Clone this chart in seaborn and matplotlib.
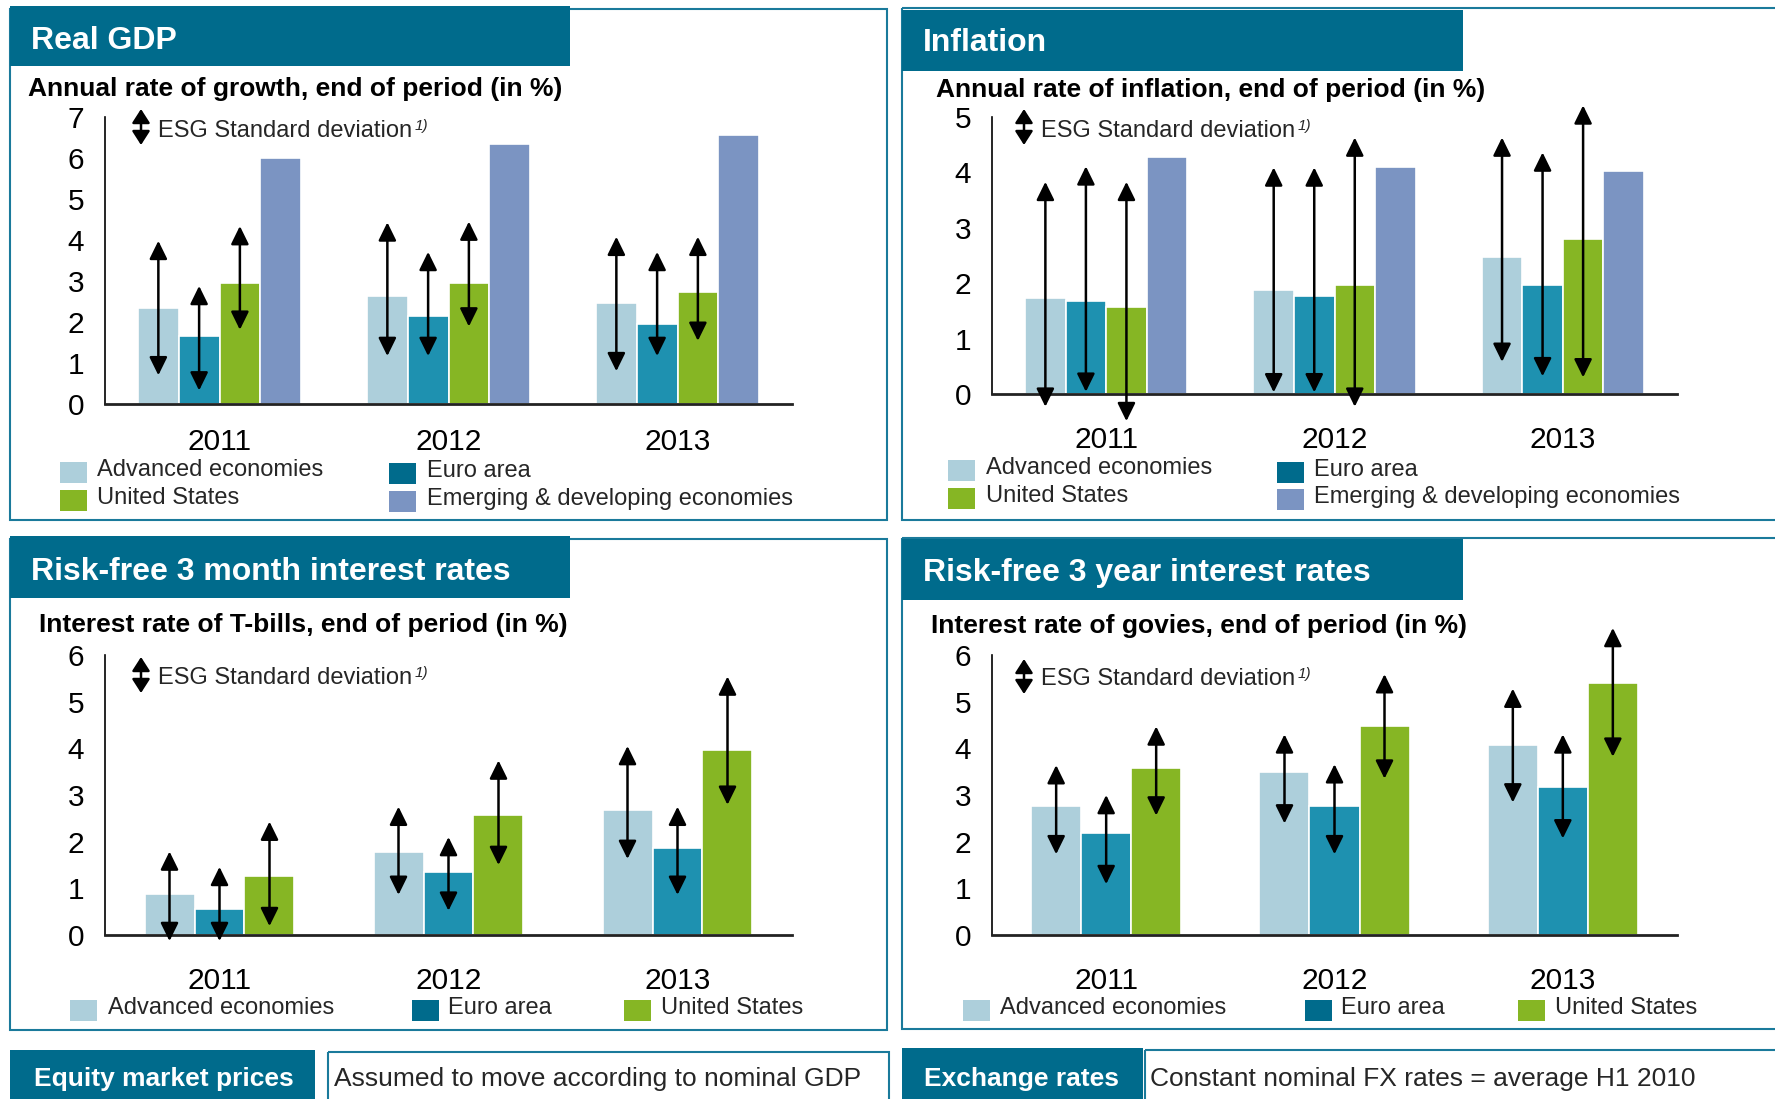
import numpy as np
import pandas as pd
import matplotlib
matplotlib.use("Agg")
import matplotlib.pyplot as plt
from matplotlib.patches import Rectangle
import seaborn as sns

# -----------------------------
# DATA
# -----------------------------
years = ["2011", "2012", "2013"]
series4 = ["Advanced economies", "Euro area", "United States",
           "Emerging & developing economies"]
series3 = series4[:3]

# Real GDP (annual growth, %)
gdp_adv = [2.33, 2.64, 2.46]
gdp_euro = [1.65, 2.14, 1.96]
gdp_us = [2.96, 2.96, 2.73]
gdp_em = [6.01, 6.33, 6.55]
gdp_lo = [[0.70, 1.17, 0.80], [0.33, 1.17, 1.17], [1.81, 1.89, 1.54]]
gdp_hi = [[3.98, 4.43, 4.08], [2.88, 3.71, 3.71], [4.34, 4.45, 4.08]]

# Inflation (%)
inf_adv = [1.73, 1.87, 2.48]
inf_euro = [1.67, 1.77, 1.97]
inf_us = [1.57, 1.97, 2.80]
inf_em = [4.27, 4.09, 4.03]
inf_lo = [[-0.23, 0.03, 0.58], [0.04, 0.03, 0.32], [-0.49, -0.23, 0.30]]
inf_hi = [[3.83, 4.09, 4.63], [4.11, 4.09, 4.36], [3.83, 4.63, 5.21]]

# Risk-free 3 month rates (%)
m3_adv = [0.88, 1.78, 2.67]
m3_euro = [0.56, 1.36, 1.87]
m3_us = [1.27, 2.58, 3.97]
m3_lo = [[-0.13, 0.86, 1.63], [-0.13, 0.52, 0.86], [0.19, 1.50, 2.79]]
m3_hi = [[1.79, 2.75, 4.05], [1.46, 2.10, 2.75], [2.43, 3.74, 5.54]]

# Risk-free 3 year rates (%)
y3_adv = [2.77, 3.49, 4.08]
y3_euro = [2.18, 2.77, 3.18]
y3_us = [3.57, 4.48, 5.39]
y3_lo = [[1.73, 2.39, 2.84], [1.09, 1.73, 2.07], [2.56, 3.35, 3.82]]
y3_hi = [[3.64, 4.30, 5.28], [3.00, 3.66, 4.30], [4.47, 5.59, 6.58]]

bar_colors = ["#ADCFDB", "#1E91B0", "#86B624", "#7B94C2"]
legend_colors = ["#ADCFDB", "#006B8C", "#86B624", "#7B94C2"]
header_color = "#006B8C"
border_color = "#1A7A9B"

# -----------------------------
# STYLE
# -----------------------------
sns.set_style("white")
plt.rcParams["font.family"] = ["Liberation Sans", "DejaVu Sans"]

W, H = 1775, 1099
fig = plt.figure(figsize=(W / 100, H / 100), dpi=100)

# background axes in pixel coordinates for boxes and texts
bg = fig.add_axes([0, 0, 1, 1])
bg.set_xlim(0, W)
bg.set_ylim(H, 0)
bg.axis("off")

arrow_style = "<|-|>,head_length=0.55,head_width=0.27"
note_style = "<|-|>,head_length=0.42,head_width=0.27"


def px_axes(left, top, right, bottom):
    return fig.add_axes([left / W, 1 - bottom / H, (right - left) / W, (bottom - top) / H])


def draw_panel(ax, values, series, lo, hi, ymax, width, xpad):
    df = pd.DataFrame({
        "year": years * len(series),
        "series": np.repeat(series, len(years)),
        "value": np.concatenate(values),
    })
    sns.barplot(data=df, x="year", y="value", hue="series", hue_order=series,
                palette=bar_colors[:len(series)], saturation=1, width=width,
                errorbar=None, legend=False, edgecolor="white", linewidth=1.2, ax=ax)
    bars = sorted(ax.patches, key=lambda p: p.get_x())
    n = len(series)
    for i in range(len(lo)):
        for j in range(len(years)):
            p = bars[j * n + i]
            x = p.get_x() + p.get_width() / 2
            ax.annotate("", xy=(x, hi[i][j]), xytext=(x, lo[i][j]),
                        arrowprops=dict(arrowstyle=arrow_style, color="black", lw=1.8,
                                        shrinkA=0, shrinkB=0, mutation_scale=20),
                        annotation_clip=False)
    ax.set_xlim(-0.5, 2.5)
    ax.set_ylim(0, ymax)
    ax.set_yticks(range(ymax + 1))
    ax.set_xlabel("")
    ax.set_ylabel("")
    ax.set_facecolor("none")
    for s in ["top", "right"]:
        ax.spines[s].set_visible(False)
    ax.spines["left"].set_color("black")
    ax.spines["left"].set_linewidth(1.2)
    ax.spines["bottom"].set_color("#222222")
    ax.spines["bottom"].set_linewidth(2)
    ax.tick_params(axis="both", length=0, labelsize=21.5, colors="black")
    ax.tick_params(axis="y", pad=15)
    ax.tick_params(axis="x", pad=xpad)


def panel_frame(x0, y0, x1, y1, hx1, hy0, hy1, title, tx, ty, subtitle, sx, sy):
    bg.add_patch(Rectangle((x0, y0), x1 - x0, y1 - y0, fill=False,
                           edgecolor=border_color, lw=1.5))
    bg.add_patch(Rectangle((x0, hy0), hx1 - x0, hy1 - hy0, facecolor=header_color,
                           edgecolor="none"))
    bg.text(tx, ty, title, color="white", fontsize=23, fontweight="bold", va="baseline")
    bg.text(sx, sy, subtitle, color="black", fontsize=19, fontweight="bold", va="baseline")


def esg_note(x, y0, y1, tx, ty):
    bg.annotate("", xy=(x, y0), xytext=(x, y1),
                arrowprops=dict(arrowstyle=note_style, color="black", lw=1.8,
                                shrinkA=0, shrinkB=0, mutation_scale=20))
    t = bg.text(tx, ty, "ESG Standard deviation", fontsize=17, va="baseline")
    bg.annotate("1)", xy=(1.0, 1.0), xycoords=t, xytext=(2, 1), textcoords="offset points",
                fontsize=11, style="italic", va="top", ha="left")


def legend_item(label, color, sx, sy, tx):
    bg.add_patch(Rectangle((sx, sy - 10.5), 27, 21, facecolor=color, edgecolor="none"))
    bg.text(tx, sy - 2, label, fontsize=17, va="center")


# -----------------------------
# PANELS
# -----------------------------
panel_frame(10, 9, 887, 520, 570, 6, 66, "Real GDP", 31, 49,
            "Annual rate of growth, end of period (in %)", 28, 96)
panel_frame(902, 8, 1800, 520, 1463, 10, 71, "Inflation", 923, 51,
            "Annual rate of inflation, end of period (in %)", 936, 97)
panel_frame(10, 539, 887, 1030, 570, 536, 598, "Risk-free 3 month interest rates", 31, 580,
            "Interest rate of T-bills, end of period (in %)", 39, 632)
panel_frame(902, 538, 1800, 1029, 1463, 539, 600, "Risk-free 3 year interest rates", 923, 581,
            "Interest rate of govies, end of period (in %)", 931, 633)

ax1 = px_axes(105, 117, 792, 404)
draw_panel(ax1, [gdp_adv, gdp_euro, gdp_us, gdp_em], series4, gdp_lo, gdp_hi, 7, 0.712, 17)
ax2 = px_axes(992, 117, 1677, 394)
draw_panel(ax2, [inf_adv, inf_euro, inf_us, inf_em], series4, inf_lo, inf_hi, 5, 0.71, 23)
ax3 = px_axes(105, 655, 792, 935)
draw_panel(ax3, [m3_adv, m3_euro, m3_us], series3, m3_lo, m3_hi, 6, 0.655, 23)
ax4 = px_axes(992, 655, 1677, 935)
draw_panel(ax4, [y3_adv, y3_euro, y3_us], series3, y3_lo, y3_hi, 6, 0.657, 23)

esg_note(141, 109, 145, 158, 137)
esg_note(1024, 109, 145, 1041, 137)
esg_note(141, 657, 693, 158, 684)
esg_note(1024, 659, 694, 1041, 685)

# legends
legend_item(series4[0], legend_colors[0], 60, 472, 97)
legend_item(series4[2], legend_colors[2], 60, 500, 97)
legend_item(series4[1], legend_colors[1], 389, 473, 427)
legend_item(series4[3], legend_colors[3], 389, 501, 427)

legend_item(series4[0], legend_colors[0], 948, 470, 986)
legend_item(series4[2], legend_colors[2], 948, 498, 986)
legend_item(series4[1], legend_colors[1], 1277, 472, 1314)
legend_item(series4[3], legend_colors[3], 1277, 499, 1314)

for sx, tx, k in [(70, 108, 0), (412, 448, 1), (624, 661, 2)]:
    legend_item(series3[k], legend_colors[k], sx, 1010, tx)
for sx, tx, k in [(963, 1000, 0), (1305, 1341, 1), (1518, 1555, 2)]:
    legend_item(series3[k], legend_colors[k], sx, 1010, tx)

# bottom strip
bg.add_patch(Rectangle((10, 1050), 305, 60, facecolor=header_color, edgecolor="none"))
bg.text(34, 1079, "Equity market prices", color="white", fontsize=19,
        fontweight="bold", va="center")
bg.add_patch(Rectangle((328, 1052), 561, 60, fill=False, edgecolor=border_color, lw=1.5))
bg.text(334, 1079, "Assumed to move according to nominal GDP", fontsize=19, va="center")

bg.add_patch(Rectangle((902, 1048), 241, 60, facecolor=header_color, edgecolor="none"))
bg.text(924, 1079, "Exchange rates", color="white", fontsize=19,
        fontweight="bold", va="center")
bg.add_patch(Rectangle((1145, 1050), 700, 60, fill=False, edgecolor=border_color, lw=1.5))
bg.text(1150, 1079, "Constant nominal FX rates = average H1 2010", fontsize=19, va="center")

plt.savefig("out.png", dpi=100)
